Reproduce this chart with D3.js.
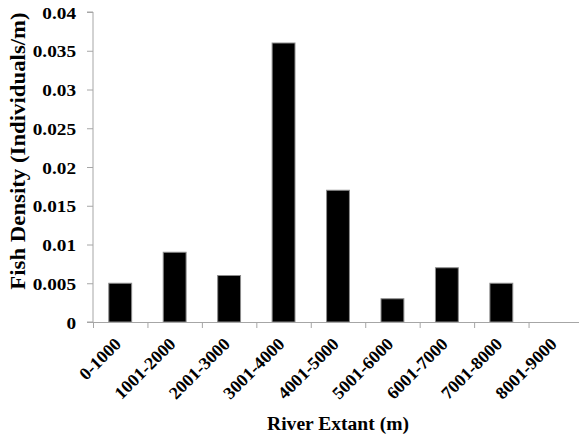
<!DOCTYPE html>
<html>
<head>
<meta charset="utf-8">
<script src="https://cdn.jsdelivr.net/npm/d3@7/dist/d3.min.js"></script>
<style>
  html, body { margin: 0; padding: 0; background: #fff; }
  svg { display: block; }
</style>
</head>
<body>
<svg id="chart" width="579" height="437"></svg>
<script>
// River segments (m) and mean fish density in each
const categories = ["0-1000", "1001-2000", "2001-3000", "3001-4000", "4001-5000",
                    "5001-6000", "6001-7000", "7001-8000", "8001-9000"];
const density = [0.005, 0.009, 0.006, 0.036, 0.017, 0.003, 0.007, 0.005, 0];
const yTickValues = [0, 0.005, 0.01, 0.015, 0.02, 0.025, 0.03, 0.035, 0.04];
const yTickLabels = ["0", "0.005", "0.01", "0.015", "0.02", "0.025", "0.03", "0.035", "0.04"];
const xTitle = "River Extant (m)";
const yTitle = "Fish Density (Individuals/m)";

const FONT = "'Liberation Serif', 'Times New Roman', serif";
const svg = d3.select("#chart");
const plotLeft = 93, plotRight = 583, plotTop = 12, plotBottom = 322;
const axisColor = "#a6a6a6";

function styleText(sel, size) {
  sel.style("font-family", FONT).style("font-weight", "bold")
     .style("font-size", size + "px").style("fill", "#000");
}

const x = d3.scaleBand().domain(categories).range([plotLeft, plotRight])
  .paddingInner(0.58).paddingOuter(0.29);
const xEdges = d3.scaleLinear().domain([0, categories.length]).range([plotLeft, plotRight]);
const y = d3.scaleLinear().domain([0, 0.04]).range([plotBottom, plotTop]);

// bars
svg.append("g").selectAll("rect")
  .data(categories.map((c, i) => ({ c, v: density[i] })).filter(d => d.v > 0))
  .join("rect")
  .attr("x", d => x(d.c))
  .attr("y", d => y(d.v))
  .attr("width", x.bandwidth())
  .attr("height", d => y(0) - y(d.v))
  .attr("fill", "#000")
  .attr("stroke", "#8c8c8c")
  .attr("stroke-width", 1);

// y axis
const yAxis = svg.append("g").attr("transform", `translate(${plotLeft},0)`)
  .call(d3.axisLeft(y).tickValues(yTickValues).tickSize(6)
    .tickFormat((d, i) => yTickLabels[i]));
yAxis.select(".domain").attr("stroke", axisColor).attr("d", `M-6,${plotTop}H0V${plotBottom}H-6`);
yAxis.selectAll(".tick line").attr("stroke", axisColor);
yAxis.selectAll(".tick text")
  .attr("x", null).attr("dy", null)
  .attr("text-anchor", "end")
  .attr("transform", "translate(-17,6) scale(1.1,1)")
  .call(styleText, 17.5);

// x axis: boundary ticks between segments
const xAxis = svg.append("g").attr("transform", `translate(0,${plotBottom})`)
  .call(d3.axisBottom(xEdges).tickValues(d3.range(categories.length + 1))
    .tickSize(6).tickSizeOuter(0).tickFormat(""));
xAxis.select(".domain").attr("stroke", axisColor);
xAxis.selectAll(".tick line").attr("stroke", axisColor);

// rotated category labels
svg.append("g").selectAll("text")
  .data(categories)
  .join("text")
  .attr("text-anchor", "end")
  .attr("transform", d => `translate(${x(d) + x.bandwidth() / 2 + 2},${plotBottom + 23}) rotate(-45) scale(1.03,1)`)
  .call(styleText, 17.5)
  .text(d => d);

// axis titles
svg.append("text")
  .attr("text-anchor", "middle")
  .attr("transform", `translate(${(plotLeft + plotRight) / 2},430) scale(1.03,1)`)
  .call(styleText, 19)
  .text(xTitle);

svg.append("text")
  .attr("text-anchor", "middle")
  .attr("transform", `translate(25,151) rotate(-90) scale(1.14,1)`)
  .call(styleText, 20)
  .text(yTitle);
</script>
</body>
</html>
